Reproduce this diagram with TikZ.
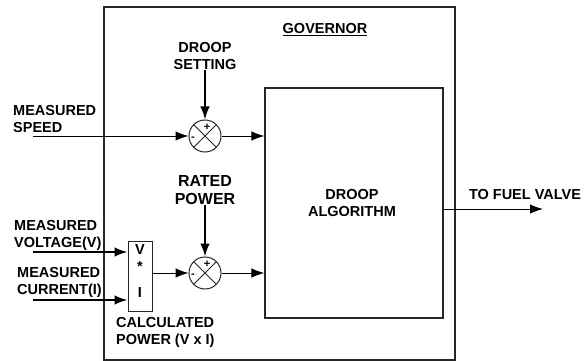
\documentclass[tikz,border=0pt]{standalone}
\usepackage{fontspec}
\setmainfont{Liberation Sans}
\usepackage{tikz}
\usetikzlibrary{arrows.meta,positioning}
\tikzset{
  govtext/.style={
    font=\fontsize{14.5}{17}\selectfont\bfseries,
    align=left,
    inner sep=0pt
  },
  govbox/.style={
    rectangle,
    draw=black!85,
    line width=1.2pt,
    inner sep=0pt
  },
  govsum/.style={
    circle,
    draw=black!85,
    line width=1pt,
    minimum size=32pt,
    inner sep=0pt,
    path picture={
      \draw[line width=0.8pt] (path picture bounding box.north west) -- (path picture bounding box.south east);
      \draw[line width=0.8pt] (path picture bounding box.north east) -- (path picture bounding box.south west);
    }
  },
  govsign/.style={
    font=\fontsize{11}{11}\selectfont\bfseries,
    inner sep=0pt
  },
  govarrow/.style={
    -{Latex[length=13pt,width=9.5pt]},
    line width=1pt,
    draw=black
  },
  govinput/.style={
    govarrow,
    line width=1.7pt
  }
}

\begin{document}
\begin{tikzpicture}[x=1pt,y=-1pt]
\useasboundingbox (0,0) rectangle (587,361);

% outer governor block and the algorithm block
\node[govbox, line width=1.5pt, minimum width=351pt, minimum height=353pt] (gov) at (279.5,183.5) {};
\node[govtext] (govname) at (325,30) {\underline{GOVERNOR}};
\node[govbox, minimum width=178pt, minimum height=230pt] (algo) at (354,203) {};
\node[govtext, align=center] (algotext) at (352,203) {DROOP\\ALGORITHM};

% speed loop
\node[govsum] (sum1) at (205,136) {};
\node[govsign] (sum1p) at (207,127) {+};
\node[govsign] (sum1m) at (193,139) {-};
\node[govtext, align=center] (droop) at (205,56) {DROOP\\SETTING};
\node[govtext, anchor=west] (speed) at (13,119) {MEASURED\\SPEED};
\coordinate (speedin) at (33,136);

% power loop
\node[govsum] (sum2) at (205,273) {};
\node[govsign] (sum2p) at (207,264) {+};
\node[govsign] (sum2m) at (193,276) {-};
\node[govtext, align=center, font=\fontsize{16}{18}\selectfont\bfseries] (rated) at (205,190) {RATED\\POWER};
\node[govbox, line width=1pt, minimum width=24pt, minimum height=70pt] (mult) at (140,276) {};
\node[govtext, align=center] (multtext) at (140,271) {V\\*\\[9pt]I};
\node[govtext, anchor=west] (volt) at (14,235) {MEASURED\\VOLTAGE(V)};
\node[govtext, anchor=west] (curr) at (17,282) {MEASURED\\CURRENT(I)};
\node[govtext, anchor=west] (calc) at (116,332) {CALCULATED\\POWER (V x I)};
\coordinate (voltin) at (33,252);
\coordinate (currin) at (33,300);

% output
\node[govtext] (fuel) at (525,195) {TO FUEL VALVE};
\coordinate (fuelout) at (543,209);

\draw[govinput] (droop) -- (sum1);
\draw[govarrow] (speedin) -- (sum1);
\draw[govarrow] (sum1) -- (sum1 -| algo.west);
\draw[govinput] (rated) -- (sum2);
\draw[govinput] (voltin) -- (voltin -| mult.west);
\draw[govinput] (currin) -- (currin -| mult.west);
\draw[govarrow] (sum2 -| mult.east) -- (sum2);
\draw[govarrow] (sum2) -- (sum2 -| algo.west);
\draw[govarrow] (fuelout -| algo.east) -- (fuelout);
\end{tikzpicture}
\end{document}
